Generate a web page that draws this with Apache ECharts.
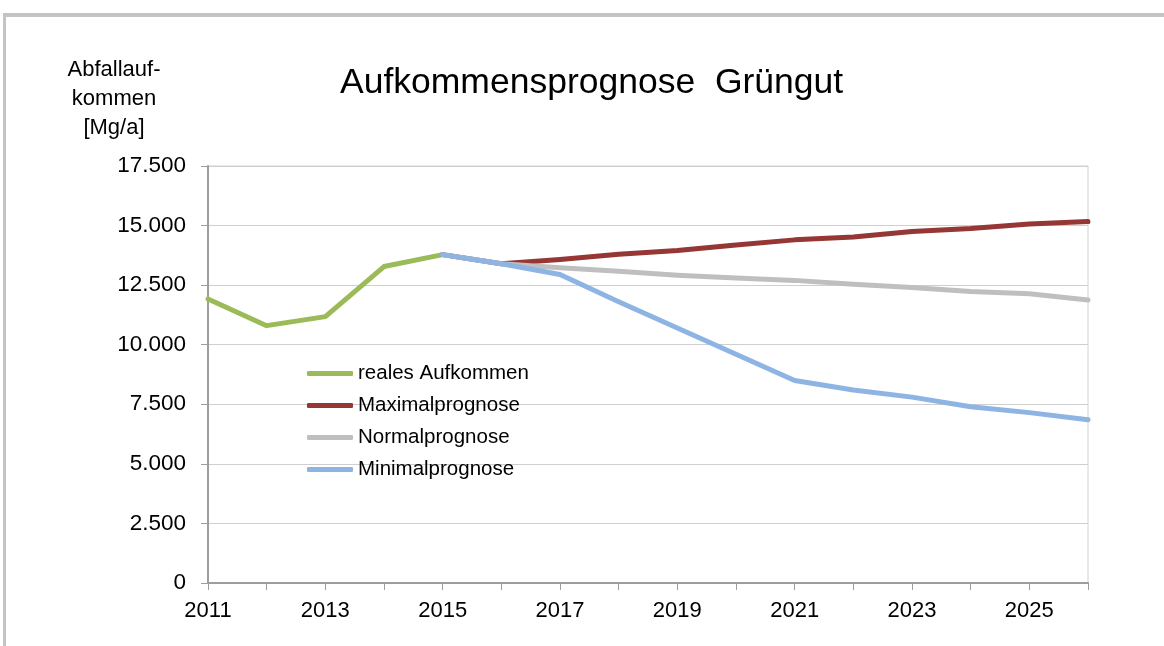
<!DOCTYPE html>
<html>
<head>
<meta charset="utf-8">
<script src="https://cdn.jsdelivr.net/npm/echarts@6/dist/echarts.min.js"></script>
<style>
    html, body { margin: 0; padding: 0; background: #fff; overflow: hidden; }
    #frame {
        position: absolute; left: 3px; top: 13px; width: 1200px; height: 700px;
        border-top: 4px solid #c4c4c4; border-left: 3px solid #c4c4c4;
    }
    #chart { position: absolute; left: 0; top: 0; width: 1164px; height: 646px; }
</style>
</head>
<body>
<div id="frame"></div>
<div id="chart"></div>
<script>
    // years on the x axis
    var years = ['2011', '2012', '2013', '2014', '2015', '2016', '2017', '2018',
        '2019', '2020', '2021', '2022', '2023', '2024', '2025', '2026'];

    // Mg/a
    var realesAufkommen = [11920, 10800, 11180, 13280, 13780, null, null, null,
        null, null, null, null, null, null, null, null];
    var maximalprognose = [null, null, null, null, 13780, 13400, 13580, 13800,
        13950, 14180, 14400, 14520, 14750, 14880, 15070, 15170];
    var normalprognose = [null, null, null, null, 13780, 13400, 13230, 13080,
        12920, 12800, 12700, 12540, 12400, 12230, 12140, 11880];
    var minimalprognose = [null, null, null, null, 13780, 13400, 12950, 11800,
        10700, 9600, 8500, 8100, 7800, 7400, 7150, 6850];

    var fontFamily = '"Liberation Sans", Arial, sans-serif';

    function germanNumber(value) {
        return String(value).replace(/\B(?=(\d{3})+(?!\d))/g, '.');
    }

    function buildSerie(name, values, color) {
        return {
            name: name,
            type: 'line',
            data: values,
            symbol: 'none',
            connectNulls: false,
            lineStyle: {width: 5, color: color, cap: 'round', join: 'round'},
            itemStyle: {color: color}
        };
    }

    var option = {
        animation: false,
        textStyle: {fontFamily: fontFamily},
        title: {
            text: 'Aufkommensprognose  Grüngut',
            left: 340,
            top: 65,
            padding: 0,
            textStyle: {fontSize: 35.5, fontWeight: 'normal', color: '#000', fontFamily: fontFamily}
        },
        graphic: [{
            type: 'text',
            x: 114,
            y: 55,
            style: {
                text: 'Abfallauf-\nkommen\n[Mg/a]',
                align: 'center',
                verticalAlign: 'top',
                fontSize: 22,
                lineHeight: 29,
                fontFamily: fontFamily,
                fill: '#000'
            }
        }],
        legend: {
            orient: 'vertical',
            left: 307,
            top: 363,
            padding: 0,
            itemWidth: 46,
            itemHeight: 5,
            itemGap: 11,
            icon: 'roundRect',
            textStyle: {fontSize: 20.5, color: '#000', fontFamily: fontFamily},
            data: ['reales Aufkommen', 'Maximalprognose', 'Normalprognose', 'Minimalprognose']
        },
        grid: {
            left: 208,
            right: 76,
            top: 166,
            bottom: 63,
            show: true,
            borderColor: '#d2d2d2',
            borderWidth: 1
        },
        xAxis: {
            type: 'category',
            boundaryGap: false,
            data: years,
            axisLine: {lineStyle: {color: '#9d9d9d', width: 2}},
            axisTick: {show: true, interval: 0, length: 7, lineStyle: {color: '#9d9d9d'}},
            axisLabel: {interval: 1, margin: 17, fontSize: 22, color: '#000', fontFamily: fontFamily},
            splitLine: {show: false}
        },
        yAxis: {
            type: 'value',
            min: 0,
            max: 17500,
            interval: 2500,
            axisLine: {show: true, lineStyle: {color: '#9d9d9d', width: 2}},
            axisTick: {show: true, length: 7, lineStyle: {color: '#9d9d9d'}},
            axisLabel: {
                margin: 22,
                fontSize: 22.5,
                color: '#000',
                fontFamily: fontFamily,
                formatter: germanNumber
            },
            splitLine: {lineStyle: {color: '#cfcfcf', width: 1}}
        },
        series: [
            buildSerie('reales Aufkommen', realesAufkommen, '#9bbb59'),
            buildSerie('Maximalprognose', maximalprognose, '#953735'),
            buildSerie('Normalprognose', normalprognose, '#bfbfbf'),
            buildSerie('Minimalprognose', minimalprognose, '#8db4e2')
        ]
    };

    var chart = echarts.init(document.getElementById('chart'));
    chart.setOption(option);
</script>
</body>
</html>
